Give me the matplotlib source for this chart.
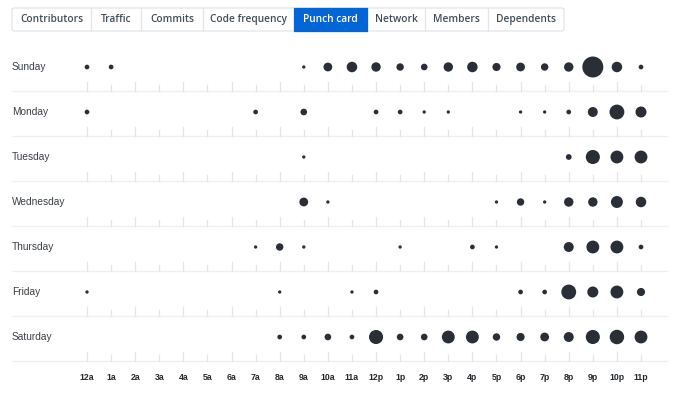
import matplotlib
matplotlib.use("Agg")
import matplotlib.pyplot as plt
import matplotlib.transforms as mtransforms
from matplotlib.patches import Rectangle, FancyBboxPatch
import numpy as np

# ---------------- data ----------------
days = ["Sunday", "Monday", "Tuesday", "Wednesday", "Thursday", "Friday", "Saturday"]
hour_labels = ["12a", "1a", "2a", "3a", "4a", "5a", "6a", "7a", "8a", "9a", "10a", "11a",
               "12p", "1p", "2p", "3p", "4p", "5p", "6p", "7p", "8p", "9p", "10p", "11p"]
sunday    = [2, 2, 0, 0, 0, 0, 0, 0, 0, 1, 7, 10, 8, 5, 4, 8, 10, 6, 7, 5, 8, 40, 10, 2]
monday    = [2, 0, 0, 0, 0, 0, 0, 2, 0, 4, 0, 0, 2, 2, 1, 1, 0, 0, 1, 1, 2, 9, 20, 11]
tuesday   = [0, 0, 0, 0, 0, 0, 0, 0, 0, 1, 0, 0, 0, 0, 0, 0, 0, 0, 0, 0, 3, 18, 15, 15]
wednesday = [0, 0, 0, 0, 0, 0, 0, 0, 0, 7, 1, 0, 0, 0, 0, 0, 0, 1, 5, 1, 8, 8, 13, 10]
thursday  = [0, 0, 0, 0, 0, 0, 0, 1, 5, 1, 0, 0, 0, 1, 0, 0, 2, 1, 0, 0, 9, 15, 15, 2]
friday    = [1, 0, 0, 0, 0, 0, 0, 0, 1, 0, 0, 1, 2, 0, 0, 0, 0, 0, 2, 2, 20, 11, 15, 6]
saturday  = [0, 0, 0, 0, 0, 0, 0, 0, 2, 2, 4, 2, 18, 4, 4, 15, 15, 5, 6, 7, 9, 18, 19, 15]
tabs = ["Contributors", "Traffic", "Commits", "Code frequency", "Punch card",
        "Network", "Members", "Dependents"]
active_tab = "Punch card"

counts = np.array([sunday, monday, tuesday, wednesday, thursday, friday, saturday])

# ---------------- layout ----------------
W, H = 680, 400
fig = plt.figure(figsize=(W / 100, H / 100), dpi=100)
fig.patch.set_facecolor("white")
plt.rcParams["font.family"] = ["Liberation Sans", "DejaVu Sans"]

x0_px, dx_px = 87.0, 24.087      # hour 0 position, px per hour
y0_px, dy_px = 67.0, 45.0        # Sunday row, px per row

ax = fig.add_axes([0, 0, 1, 1])
ax.set_xlim(-x0_px / dx_px, (W - x0_px) / dx_px)
ax.set_ylim((H - y0_px) / dy_px, -y0_px / dy_px)
ax.axis("off")

dot_color = "#292e37"
sep_color = "#eef0f2"
tick_color = "#e3e6e9"

blend = mtransforms.blended_transform_factory(fig.transFigure, ax.transData)

hours = np.arange(len(hour_labels))
sep_off = 24.0 / dy_px
long_tick = 9.5 / dy_px
short_tick = 6.0 / dy_px

for i, day in enumerate(days):
    ax.plot([12 / W, 668 / W], [i + sep_off, i + sep_off], color=sep_color,
            lw=1.0, transform=blend, solid_capstyle="butt", zorder=1)
    for h in hours:
        L = long_tick if h % 2 == 0 else short_tick
        ax.plot([h, h], [i + sep_off - L, i + sep_off], color=tick_color, lw=0.9, zorder=1)
    ax.text(12 / W, i, day, transform=blend, ha="left", va="center",
            fontsize=7.3, color="#3a3f45")

# dots: diameter proportional to sqrt(count)
dmax_px = 21.0
cmax = counts.max()
for i in range(len(days)):
    row = counts[i]
    mask = row > 0
    sizes = (dmax_px * 0.72) ** 2 * row[mask] / cmax
    ax.scatter(hours[mask], np.full(mask.sum(), i), s=sizes, color=dot_color,
               edgecolors="none", zorder=3)

# hour labels
label_y = (377 - y0_px) / dy_px
for h, lab in zip(hours, hour_labels):
    ax.text(h, label_y, lab, ha="center", va="center", fontsize=6.3,
            fontweight="bold", color="#24292e")

# ---------------- tabs ----------------
tab_edges = [12, 91, 141, 203, 294, 367, 425, 488, 564]
tab_top, tab_bot = 8, 31
fy = lambda y: 1 - y / H
fx = lambda x: x / W
outer = FancyBboxPatch((fx(tab_edges[0]), fy(tab_bot)),
                       fx(tab_edges[-1] - tab_edges[0]), (tab_bot - tab_top) / H,
                       boxstyle="round,pad=0,rounding_size=0.004",
                       transform=fig.transFigure, facecolor="white",
                       edgecolor="#e1e4e8", lw=0.9, zorder=5)
fig.patches.append(outer)
for k, name in enumerate(tabs):
    l, r = tab_edges[k], tab_edges[k + 1]
    if name == active_tab:
        rect = Rectangle((fx(l), fy(tab_bot)), fx(r - l), (tab_bot - tab_top) / H,
                         transform=fig.transFigure, facecolor="#0366d6",
                         edgecolor="#0366d6", lw=0.9, zorder=6)
        fig.patches.append(rect)
        col = "white"
    else:
        if k > 0:
            fig.add_artist(plt.Line2D([fx(l), fx(l)], [fy(tab_bot), fy(tab_top)],
                                      transform=fig.transFigure, color="#e1e4e8",
                                      lw=0.9, zorder=6))
        col = "#444d56"
    fig.text(fx((l + r) / 2), fy((tab_top + tab_bot) / 2), name, ha="center",
             va="center", fontsize=7.3, fontweight=600, color=col, zorder=7,
             family=["Open Sans", "DejaVu Sans"])

fig.savefig("out.png", dpi=100, facecolor="white")
